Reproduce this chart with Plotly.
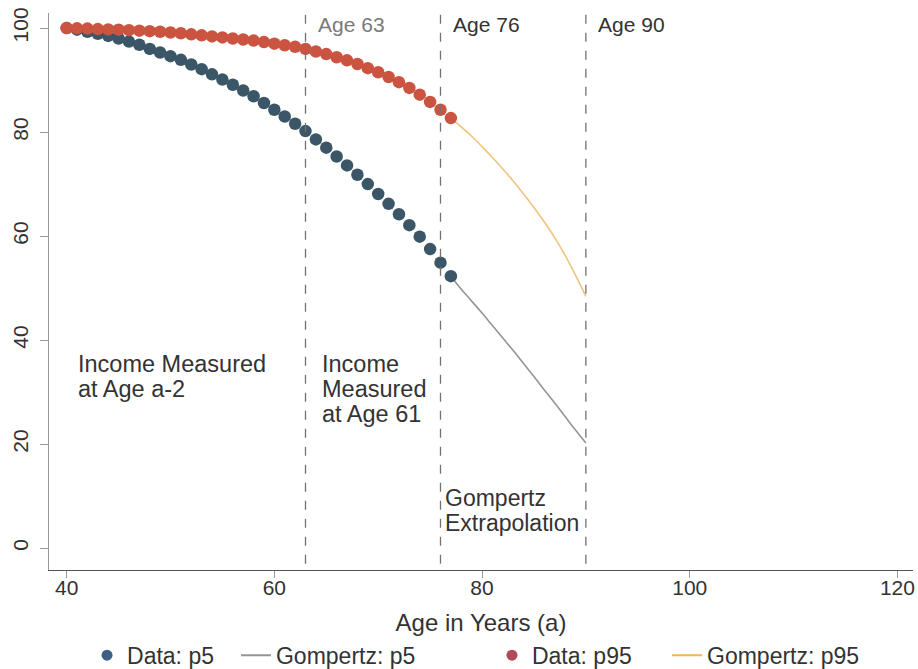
import plotly.graph_objects as go

ages_data = list(range(40, 78))
p5_data = [100.0, 99.7, 99.3, 98.9, 98.5, 98.0, 97.4, 96.8, 96.0, 95.3,
           94.6, 93.9, 93.0, 92.1, 91.1, 90.1, 89.1, 88.0, 86.9, 85.6,
           84.3, 83.0, 81.6, 80.2, 78.6, 77.0, 75.3, 73.6, 71.8, 70.0,
           68.1, 66.2, 64.2, 62.1, 59.9, 57.5, 54.9, 52.3]
p95_data = [100.0, 99.95, 99.9, 99.8, 99.75, 99.7, 99.6, 99.5, 99.4, 99.3,
            99.15, 99.0, 98.8, 98.6, 98.4, 98.2, 98.0, 97.8, 97.6, 97.3,
            97.0, 96.7, 96.4, 96.0, 95.5, 95.0, 94.4, 93.8, 93.1, 92.3,
            91.5, 90.6, 89.6, 88.5, 87.2, 85.8, 84.3, 82.7]

ages_gomp = list(range(77, 91))
p5_gomp = [52.3, 49.8, 47.5, 45.2, 42.8, 40.4, 38.0, 35.5, 33.0, 30.4,
           27.9, 25.3, 22.7, 20.2]
p95_gomp = [82.7, 81.0, 79.2, 77.2, 75.1, 72.9, 70.6, 68.1, 65.5, 62.7,
            59.7, 56.3, 52.5, 48.4]

vlines = [63, 76, 90]
vline_labels = ["Age 63", "Age 76", "Age 90"]
x_ticks = [40, 60, 80, 100, 120]
y_ticks = [0, 20, 40, 60, 80, 100]

FONT = "Liberation Sans, Arial, sans-serif"
TXT = "#333333"
blue_pt, red_pt = "#3a5667", "#cb5440"
blue_lg, red_lg = "#3e5f84", "#b04a5a"
gray_ln, orange_pl, orange_lg = "#959595", "#efc47e", "#f5b352"

fig = go.Figure()
fig.add_trace(go.Scatter(x=ages_gomp, y=p5_gomp, mode="lines",
                         line=dict(color=gray_ln, width=1.6, shape="spline"), showlegend=False))
fig.add_trace(go.Scatter(x=ages_gomp, y=p95_gomp, mode="lines",
                         line=dict(color=orange_pl, width=1.6, shape="spline"), showlegend=False))
fig.add_trace(go.Scatter(x=ages_data, y=p5_data, mode="markers",
                         marker=dict(color=blue_pt, size=12.5), showlegend=False))
fig.add_trace(go.Scatter(x=ages_data, y=p95_data, mode="markers",
                         marker=dict(color=red_pt, size=12.5), showlegend=False))

# legend entries, each in its own legend so they can be positioned like the original
fig.add_trace(go.Scatter(x=[None], y=[None], mode="markers", name="Data: p5",
                         marker=dict(color=blue_lg, size=11), legend="legend"))
fig.add_trace(go.Scatter(x=[None], y=[None], mode="lines", name="Gompertz: p5",
                         line=dict(color=gray_ln, width=2), legend="legend2"))
fig.add_trace(go.Scatter(x=[None], y=[None], mode="markers", name="Data: p95",
                         marker=dict(color=red_lg, size=11), legend="legend3"))
fig.add_trace(go.Scatter(x=[None], y=[None], mode="lines", name="Gompertz: p95",
                         line=dict(color=orange_lg, width=2), legend="legend4"))

for v in vlines:
    fig.add_shape(type="line", x0=v, x1=v, y0=-3, y1=102.9, xref="x", yref="y",
                  line=dict(color="#777070", width=1.3, dash="dash"))

for v, lab, col in zip(vlines, vline_labels, ["#7a7a7a", TXT, TXT]):
    fig.add_annotation(x=v, y=100.6, xref="x", yref="y", text=lab, showarrow=False,
                       xanchor="left", yanchor="middle", xshift=10,
                       font=dict(size=21, color=col, family=FONT))

def label(x, y, text, xshift, size):
    fig.add_annotation(x=x, y=y, xref="x", yref="y", text=text, showarrow=False,
                       xanchor="left", yanchor="middle", xshift=xshift,
                       font=dict(size=size, color=TXT, family=FONT))

label(41, 35.4, "Income Measured", -1, 23.5)
label(41, 30.6, "at Age a-2", -1, 23.5)
label(63, 35.4, "Income", 14, 23.5)
label(63, 30.6, "Measured", 14, 23.5)
label(63, 25.8, "at Age 61", 14, 23.5)
label(76, 9.6, "Gompertz", 2, 23)
label(76, 4.8, "Extrapolation", 2, 23)

leg_common = dict(orientation="h", yanchor="middle", xanchor="left", y=-0.153,
                  bgcolor="rgba(0,0,0,0)", itemwidth=30,
                  font=dict(size=23, color=TXT, family=FONT))

fig.update_layout(
    width=918, height=669,
    margin=dict(l=49, r=5, t=13, b=99, autoexpand=False),
    paper_bgcolor="white", plot_bgcolor="white",
    font=dict(family=FONT, size=21, color=TXT),
    legend=dict(x=0.044, **leg_common),
    legend2=dict(x=0.2164, **leg_common),
    legend3=dict(x=0.5127, **leg_common),
    legend4=dict(x=0.7153, **leg_common),
    xaxis=dict(range=[38.3, 121.5], tickvals=x_ticks, showgrid=False, zeroline=False,
               showline=True, linecolor="#555555", linewidth=1.2, automargin=False,
               ticks="outside", ticklen=7, tickcolor="#999999", ticklabelstandoff=-8,
               ticklabeloverflow="allow",
               tickfont=dict(size=21, color=TXT),
               title=dict(text="Age in Years (a)", font=dict(size=24, color=TXT), standoff=15)),
    yaxis=dict(range=[-4.2, 102.9], tickvals=y_ticks, showgrid=False, zeroline=False,
               showline=True, linecolor="#999999", linewidth=1.2, automargin=False,
               ticks="outside", ticklen=8, tickcolor="#999999", tickangle=-90,
               ticklabelstandoff=4, ticklabeloverflow="allow",
               tickfont=dict(size=21, color=TXT)),
)

fig.write_html(
    "out.html",
    config={"displayModeBar": False},
    post_script="document.body.style.margin='0';document.body.style.overflow='hidden';",
)
